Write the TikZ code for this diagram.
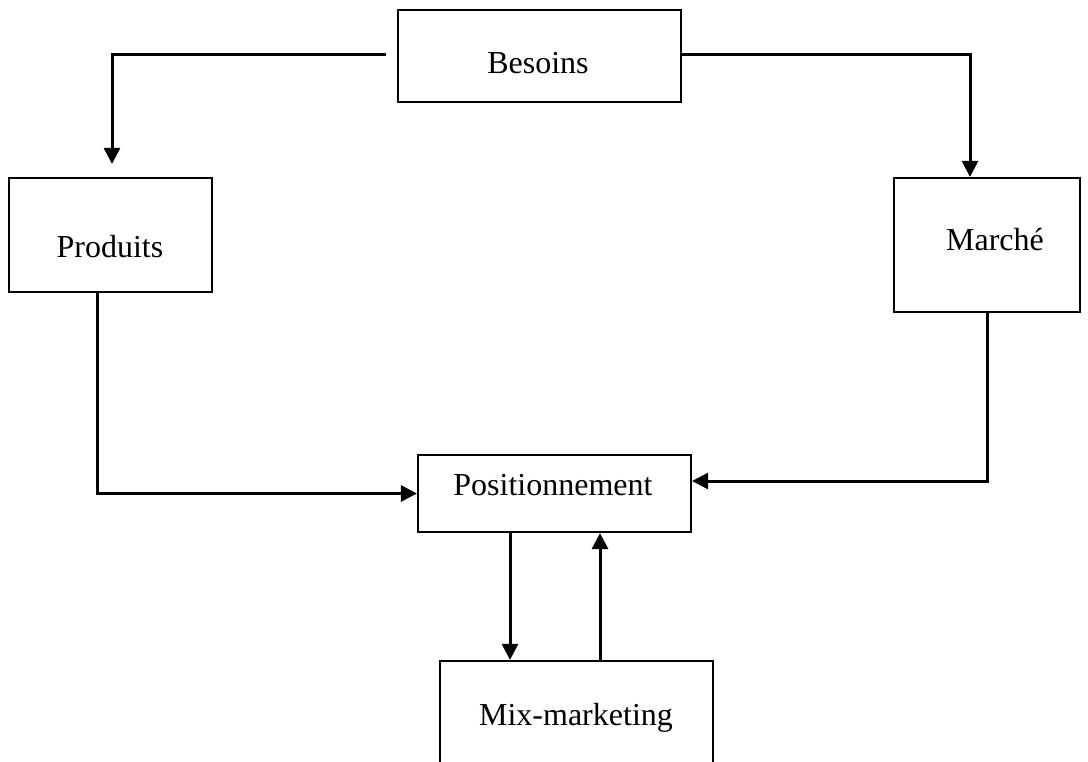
\documentclass[tikz,border=0pt]{standalone}
\usepackage{fontspec}
\setmainfont{Liberation Serif}
\usetikzlibrary{arrows.meta}
\begin{document}
\begin{tikzpicture}[x=1pt,y=-1pt,
  box/.style={draw, line width=2.2pt, inner sep=0pt, rectangle},
  txt/.style={font=\fontsize{32}{37}\selectfont, inner sep=0pt},
  conn/.style={line width=3pt},
  arr/.style={conn, -{Triangle[length=16pt,width=16pt]}}]
\useasboundingbox (0,0) rectangle (1088,762);
\clip (0,0) rectangle (1088,762);
% boxes
\node[box, minimum width=283, minimum height=92] (besoins) at (539.5,56) {};
\node[box, minimum width=203, minimum height=114] (produits) at (110.5,235) {};
\node[box, minimum width=186, minimum height=134] (marche) at (987,245) {};
\node[box, minimum width=273, minimum height=77] (pos) at (554.5,493.5) {};
\node[box, minimum width=273, minimum height=140] (mix) at (576.5,731) {};
% texts
\node[txt] (tb) at (538,63) {Besoins};
\node[txt] (tp) at (110,247) {Produits};
\node[txt] (tm) at (995,240) {Marché};
\node[txt] (tpos) at (553,485) {Positionnement};
\node[txt] (tmix) at (576,718) {Mix-marketing};
% connectors
\draw[arr] ([xshift=-11pt,yshift=1pt]besoins.west) -| ([xshift=1.5pt,yshift=13pt]produits.north);
\draw[arr] ([yshift=1pt]besoins.east) -| ([xshift=-17pt]marche.north);
\draw[arr] ([xshift=-13.5pt]produits.south) |- (pos.west);
\draw[arr] (marche.south) |- ([yshift=12.5pt]pos.east);
\draw[arr] ([xshift=-44.5pt]pos.south) -- ([xshift=-44.5pt]pos.south |- mix.north);
\draw[arr] ([xshift=45.5pt]pos.south |- mix.north) -- ([xshift=45.5pt]pos.south);
\end{tikzpicture}
\end{document}
